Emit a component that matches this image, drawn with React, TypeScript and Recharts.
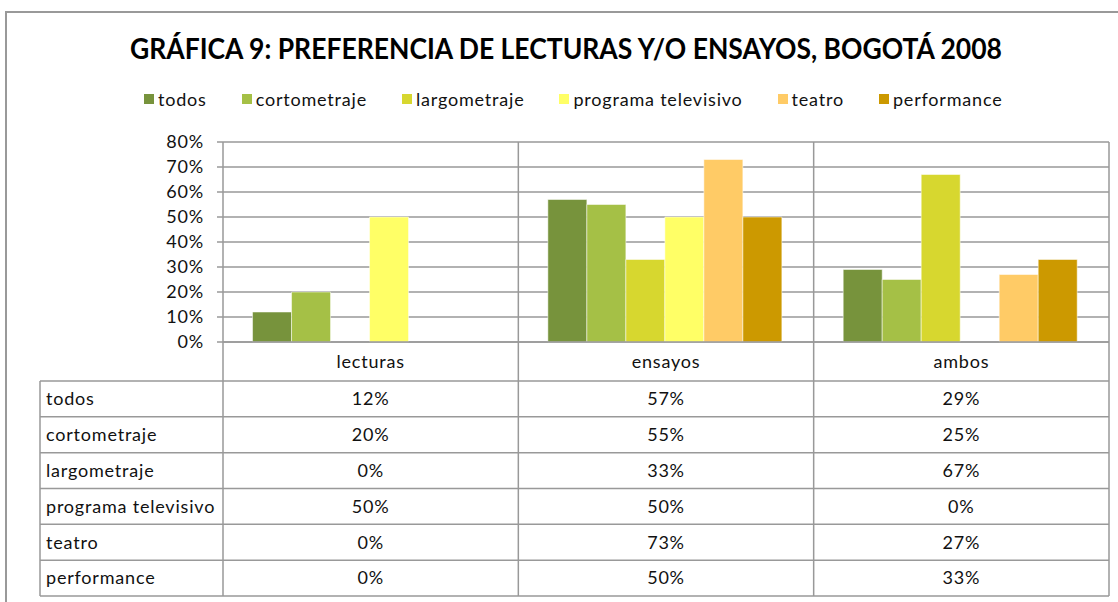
import { BarChart, Bar, XAxis, YAxis, CartesianGrid } from "recharts";

const CATEGORIES = ["lecturas", "ensayos", "ambos"];
const SERIES = [
  "todos",
  "cortometraje",
  "largometraje",
  "programa televisivo",
  "teatro",
  "performance",
];
const TODOS = [0.12, 0.57, 0.29];
const CORTOMETRAJE = [0.2, 0.55, 0.25];
const LARGOMETRAJE = [0, 0.33, 0.67];
const PROGRAMA_TV = [0.5, 0.5, 0];
const TEATRO = [0, 0.73, 0.27];
const PERFORMANCE = [0, 0.5, 0.33];
const Y_TICKS = [0, 0.1, 0.2, 0.3, 0.4, 0.5, 0.6, 0.7, 0.8];

const VALUES = [TODOS, CORTOMETRAJE, LARGOMETRAJE, PROGRAMA_TV, TEATRO, PERFORMANCE];
const COLORS = ["#77933C", "#A5C046", "#D7D72F", "#FFFF66", "#FFCB66", "#CC9900"];

const data = CATEGORIES.map((name, i) => {
  const row: Record<string, string | number> = { name };
  SERIES.forEach((s, j) => (row[s] = VALUES[j][i]));
  return row;
});

// layout
const W = 1118;
const H = 602;
const PLOT_LEFT = 223;
const PLOT_RIGHT = 1109;
const PLOT_TOP = 142;
const PLOT_BOTTOM = 342;
const TABLE_TOP = 381;
const TABLE_BOTTOM = 596;
const TABLE_LEFT = 40;
const ROW_H = (TABLE_BOTTOM - TABLE_TOP) / SERIES.length;
const BAND = (PLOT_RIGHT - PLOT_LEFT) / CATEGORIES.length;
const LINE = "#999";
const FONT = "Lato, 'Open Sans', sans-serif";
const FS = 18;
const LS = 0.8;
const pct = (v: number) => `${Math.round(v * 100)}%`;

const textStyle = { fontSize: FS, fill: "#111", fontFamily: FONT, letterSpacing: LS };

function TableTick(props: any) {
  const { x, payload } = props;
  const idx = CATEGORIES.indexOf(payload.value);
  const left = x - BAND / 2;
  return (
    <g>
      <line x1={left} x2={left} y1={PLOT_TOP} y2={TABLE_BOTTOM} stroke={LINE} strokeWidth={1.5} />
      {idx === CATEGORIES.length - 1 && (
        <line x1={left + BAND} x2={left + BAND} y1={PLOT_TOP} y2={TABLE_BOTTOM} stroke={LINE} strokeWidth={1.5} />
      )}
      {idx === 0 && (
        <g>
          <line x1={TABLE_LEFT} x2={TABLE_LEFT} y1={TABLE_TOP} y2={TABLE_BOTTOM} stroke={LINE} strokeWidth={1.5} />
          {Array.from({ length: SERIES.length + 1 }, (_, j) => (
            <line
              key={j}
              x1={TABLE_LEFT}
              x2={PLOT_RIGHT}
              y1={TABLE_TOP + ROW_H * j}
              y2={TABLE_TOP + ROW_H * j}
              stroke={LINE}
              strokeWidth={1.5}
            />
          ))}
          {SERIES.map((s, j) => (
            <text key={s} x={TABLE_LEFT + 6} y={TABLE_TOP + ROW_H * (j + 0.5)} dy="0.35em" style={textStyle}>
              {s}
            </text>
          ))}
        </g>
      )}
      <text x={x} y={(PLOT_BOTTOM + TABLE_TOP) / 2} dy="0.35em" textAnchor="middle" style={textStyle}>
        {payload.value}
      </text>
      {VALUES.map((vals, j) => (
        <text
          key={j}
          x={x}
          y={TABLE_TOP + ROW_H * (j + 0.5)}
          dy="0.35em"
          textAnchor="middle"
          style={textStyle}
        >
          {pct(vals[idx])}
        </text>
      ))}
    </g>
  );
}

export default function App() {
  return (
    <div
      style={{
        position: "absolute",
        left: 0,
        top: 0,
        width: W,
        height: H,
        overflow: "hidden",
        background: "#fff",
        fontFamily: FONT,
      }}
    >
      <div
        style={{
          position: "absolute",
          left: 5,
          top: 11,
          width: W + 20,
          height: H,
          borderLeft: `2px solid ${LINE}`,
          borderTop: `2px solid ${LINE}`,
        }}
      />
      <svg style={{ position: "absolute", left: 0, top: 0 }} width={W} height={70}>
        <text
          x={130}
          y={59}
          textLength={872}
          lengthAdjust="spacingAndGlyphs"
          fontSize={28}
          fontWeight={700}
          fill="#000"
          fontFamily={FONT}
        >
          GRÁFICA 9: PREFERENCIA DE LECTURAS Y/O ENSAYOS, BOGOTÁ 2008
        </text>
      </svg>
      <div
        style={{
          position: "absolute",
          left: 144,
          top: 88,
          display: "flex",
          gap: 35,
          fontSize: FS,
          letterSpacing: LS,
          color: "#111",
          lineHeight: "22px",
        }}
      >
        {SERIES.map((s, i) => (
          <div key={s} style={{ display: "flex", alignItems: "center", gap: 4 }}>
            <span style={{ width: 10, height: 10, background: COLORS[i], display: "inline-block" }} />
            <span>{s}</span>
          </div>
        ))}
      </div>
      <div style={{ position: "absolute", left: 0, top: 0 }}>
        <BarChart
          width={W}
          height={H}
          data={data}
          margin={{ top: PLOT_TOP, right: W - PLOT_RIGHT, left: PLOT_LEFT - 60, bottom: H - TABLE_BOTTOM }}
          barCategoryGap="10%"
          barGap={0}
        >
          <CartesianGrid vertical={false} stroke={LINE} strokeWidth={1.5} />
          <XAxis
            dataKey="name"
            height={TABLE_BOTTOM - PLOT_BOTTOM}
            axisLine={{ stroke: LINE, strokeWidth: 1.5 }}
            tickLine={false}
            interval={0}
            tick={<TableTick />}
          />
          <YAxis
            width={60}
            domain={[0, 0.8]}
            ticks={Y_TICKS}
            interval={0}
            tickFormatter={pct}
            axisLine={false}
            tickLine={{ stroke: LINE, strokeWidth: 1.5 }}
            tickSize={6}
            tickMargin={13}
            tick={{ fontSize: FS, fill: "#111", fontFamily: FONT, letterSpacing: LS }}
          />
          {SERIES.map((s, i) => (
            <Bar
              key={s}
              dataKey={s}
              fill={COLORS[i]}
              stroke="rgba(255,255,255,0.5)"
              strokeWidth={1}
              isAnimationActive={false}
            />
          ))}
        </BarChart>
      </div>
    </div>
  );
}
